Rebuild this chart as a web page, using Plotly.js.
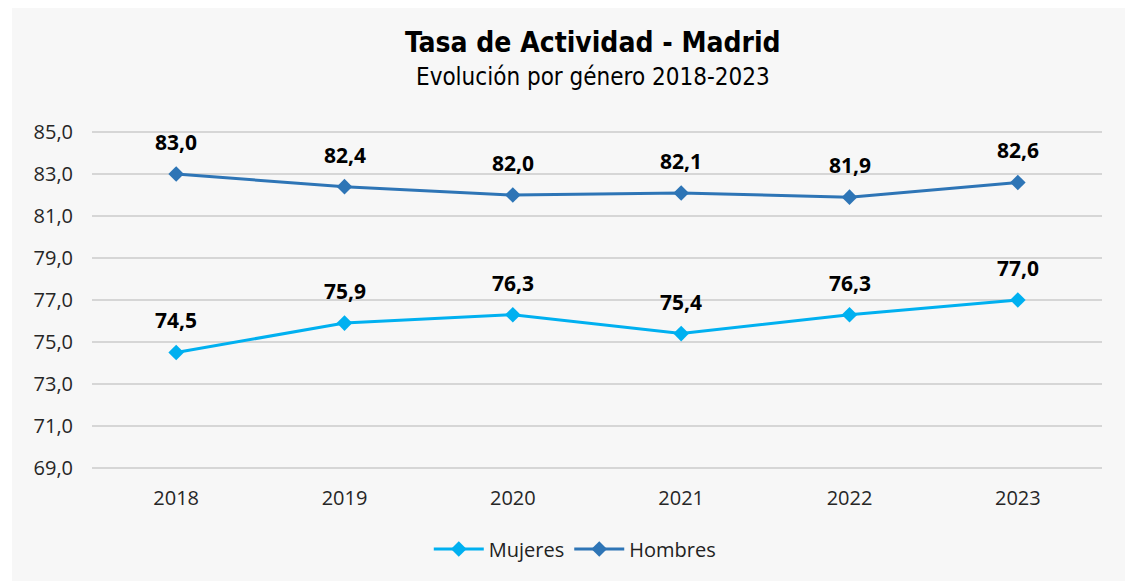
<!DOCTYPE html>
<html>
<head>
<meta charset="utf-8">
<script src="https://cdn.plot.ly/plotly-3.0.1.min.js"></script>
<style>
  html, body { margin: 0; padding: 0; background: #ffffff; width: 1125px; height: 581px; overflow: hidden; }
  #chart { position: absolute; left: 12px; top: 8px; width: 1113px; height: 573px; }
</style>
</head>
<body>
<div id="chart"></div>
<script>
const years = ['2018', '2019', '2020', '2021', '2022', '2023'];
const mujeres = [74.5, 75.9, 76.3, 75.4, 76.3, 77.0];
const hombres = [83.0, 82.4, 82.0, 82.1, 81.9, 82.6];
const yTicks = [69, 71, 73, 75, 77, 79, 81, 83, 85];

const colMuj = '#00b0f0';
const colHom = '#2e75b6';
const fmt = v => v.toFixed(1).replace('.', ',');

function series(name, vals, color) {
  return {
    x: years, y: vals, name: name, type: 'scatter', mode: 'lines+markers',
    line: { color: color, width: 3 },
    marker: { symbol: 'diamond', size: 12, color: color },
    hoverinfo: 'skip'
  };
}

const data = [series('Mujeres', mujeres, colMuj), series('Hombres', hombres, colHom)];

const labelFont = { family: 'Open Sans, sans-serif', size: 21, color: '#000000' };
const annotations = [];
[mujeres, hombres].forEach(vals => {
  vals.forEach((v, i) => {
    annotations.push({
      x: i, y: v, xref: 'x', yref: 'y', text: '<b>' + fmt(v) + '</b>',
      showarrow: false, yshift: 32, font: labelFont, xanchor: 'center', yanchor: 'middle'
    });
  });
});
annotations.push({
  xref: 'paper', yref: 'paper', x: 0.496, y: 1.2559, xanchor: 'center', yanchor: 'middle',
  text: '<b>Tasa de Actividad - Madrid</b>', showarrow: false,
  font: { family: 'DejaVu Sans Condensed, sans-serif', size: 28, color: '#000000' }
});
annotations.push({
  xref: 'paper', yref: 'paper', x: 0.496, y: 1.1559, xanchor: 'center', yanchor: 'middle',
  text: 'Evolución por género 2018-2023', showarrow: false,
  font: { family: 'DejaVu Sans Condensed, sans-serif', size: 24, color: '#000000' }
});

const layout = {
  width: 1113, height: 573,
  paper_bgcolor: '#f7f7f7', plot_bgcolor: '#f7f7f7',
  margin: { l: 80, r: 23, t: 122, b: 111 },
  separators: ',.',
  showlegend: true,
  legend: {
    orientation: 'h', x: 0.478, y: -0.2324, xanchor: 'center', yanchor: 'middle',
    font: { family: 'Open Sans, sans-serif', size: 20, color: '#222222' },
    bgcolor: 'rgba(0,0,0,0)', itemwidth: 50
  },
  xaxis: {
    type: 'category', range: [-0.5, 5.5], showgrid: false, zeroline: false, showline: false,
    ticks: '', ticklabelstandoff: 14,
    tickfont: { family: 'Open Sans, sans-serif', size: 20, color: '#262626' },
    fixedrange: true
  },
  yaxis: {
    range: [68.9, 85.1], tickvals: yTicks, ticktext: yTicks.map(fmt),
    showgrid: true, gridcolor: '#d6d6d6', gridwidth: 1.5, zeroline: false, showline: false,
    ticks: '', ticklabelstandoff: 18,
    tickfont: { family: 'Open Sans, sans-serif', size: 20, color: '#262626' },
    fixedrange: true
  },
  annotations: annotations
};

Plotly.newPlot('chart', data, layout, { displayModeBar: false, staticPlot: true });
</script>
</body>
</html>
